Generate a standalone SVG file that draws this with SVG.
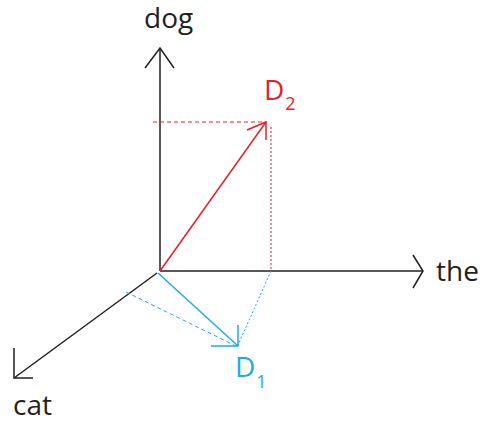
<svg xmlns="http://www.w3.org/2000/svg" width="481" height="425" viewBox="0 0 481 425">
<style>
.ax{stroke:#231f20;stroke-width:1.5;fill:none}
.r{stroke:#ed1c24;fill:none;stroke-width:1.5}
.b{stroke:#1eaae7;fill:none;stroke-width:1.5}
.dash{stroke-width:1;stroke-dasharray:4 3}
.dot{stroke-width:1;stroke-dasharray:2 2}
text{font-family:"Open Sans","Noto Sans",sans-serif;font-size:28px}
.lb{fill:#231f20}
.sub{font-size:18px}
</style>
<rect width="481" height="425" fill="#fff"/>
<g id="connectors">
<g id="axis-dog"><line class="ax" x1="160" y1="271" x2="160" y2="48"/><polyline class="ax" points="145,68 160,48 174,68"/></g>
<g id="axis-the"><line class="ax" x1="160" y1="271" x2="423" y2="271"/><polyline class="ax" points="413,255 423,271 413,288"/></g>
<g id="axis-cat"><line class="ax" x1="157" y1="273" x2="14" y2="378"/><polyline class="ax" points="14,348 14,378 33,378"/></g>
<g id="d2-proj"><line class="r dash" x1="153" y1="122" x2="266" y2="122"/><line class="r dot" x1="271" y1="127" x2="271" y2="271"/></g>
<g id="d2-vec"><line class="r" x1="160" y1="271" x2="266" y2="122"/><polyline class="r" points="247,130 266,122 266,140"/></g>
<g id="d1-proj"><line class="b dash" x1="126" y1="292" x2="236" y2="346"/><line class="b dot" x1="271" y1="271" x2="238" y2="345"/></g>
<g id="d1-vec"><line class="b" x1="158" y1="273" x2="238" y2="346"/><polyline class="b" points="238,325 238,346 211,346"/></g>
</g>
<g id="label-dog"><text class="lb" x="144" y="28">dog</text></g>
<g id="label-the"><text class="lb" x="436" y="281">the</text></g>
<g id="label-cat"><text class="lb" x="13" y="415">cat</text></g>
<g id="label-d2"><text x="264" y="100" fill="#ed1c24">D<tspan class="sub" dy="10" dx="1">2</tspan></text></g>
<g id="label-d1"><text x="235" y="377" fill="#1eaae7">D<tspan class="sub" dy="11" dx="1">1</tspan></text></g>
</svg>
